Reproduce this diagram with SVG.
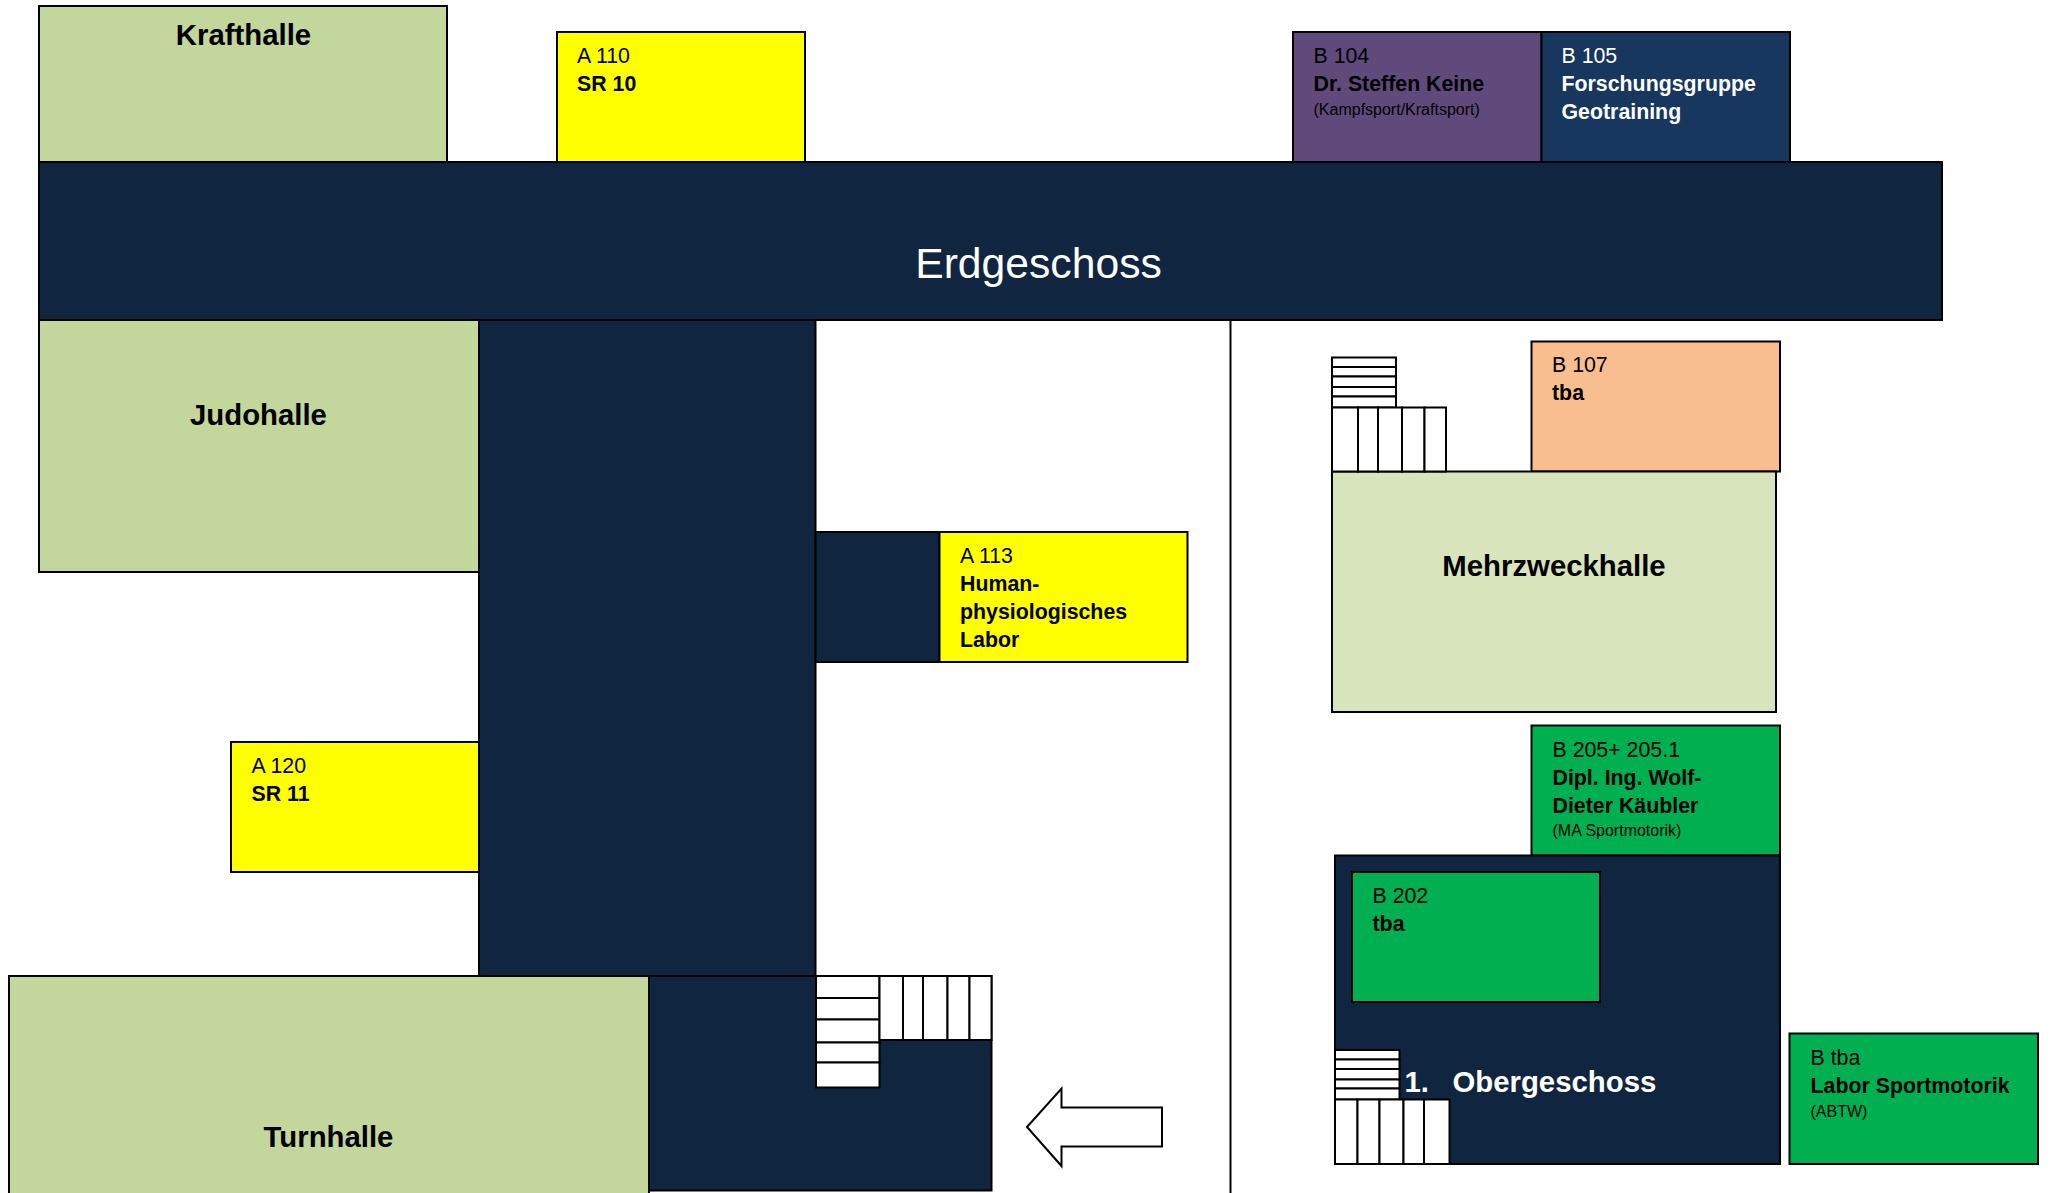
<svg xmlns="http://www.w3.org/2000/svg" width="2053" height="1193" viewBox="0 0 2053 1193">
<style>
text{font-family:"Liberation Sans",Arial,Helvetica,sans-serif;font-size:21.33px;fill:#000}
.b{font-weight:700}
.s{font-size:16px}
.w{fill:#fff}
.h{font-size:29.33px;font-weight:700;text-anchor:middle}
rect,path{stroke:#000;stroke-width:2}
.hall{fill:#C3D69B}
.navy{fill:#10253F}
.yel{fill:#FFFF00}
.grn{fill:#00B050}
.st{fill:#fff}
.ln{fill:none}
</style>
<rect width="2053" height="1193" style="fill:#fff;stroke:none"/>
<path id="divider" class="ln" d="M1230.500 320V1193"/>
<g id="krafthalle"><rect class="hall" x="39" y="6" width="408" height="156"/><text class="h" x="243.500" y="45">Krafthalle</text></g>
<g id="a110"><rect class="yel" x="557" y="32" width="248" height="130"/><text x="577" y="63">A 110</text><text class="b" x="577" y="91">SR 10</text></g>
<g id="b104"><rect x="1293" y="32" width="248.500" height="130" fill="#604A7B"/><text x="1313.500" y="63">B 104</text><text class="b" x="1313.500" y="91">Dr. Steffen Keine</text><text class="s" x="1313.500" y="115">(Kampfsport/Kraftsport)</text></g>
<g id="b105"><rect x="1541.500" y="32" width="248.500" height="130" fill="#17375E"/><text class="w" x="1561.500" y="63">B 105</text><text class="b w" x="1561.500" y="91">Forschungsgruppe</text><text class="b w" x="1561.500" y="119">Geotraining</text></g>
<g id="corridor"><rect class="navy" x="479" y="320" width="336.500" height="656"/></g>
<g id="erdgeschoss"><rect class="navy" x="39" y="162" width="1903" height="158"/><text class="w" x="1038.500" y="278" text-anchor="middle" style="font-size:42.67px">Erdgeschoss</text></g>
<g id="judohalle"><rect class="hall" x="39" y="320" width="440" height="252"/><text class="h" x="258.500" y="425">Judohalle</text></g>
<g id="a113"><rect class="navy" x="815.500" y="532" width="124" height="130"/><rect class="yel" x="939.500" y="532" width="248" height="130"/><text x="960" y="563">A 113</text><text class="b" x="960" y="591">Human-</text><text class="b" x="960" y="619">physiologisches</text><text class="b" x="960" y="647">Labor</text></g>
<g id="a120"><rect class="yel" x="231" y="742" width="248" height="130"/><text x="251.500" y="773">A 120</text><text class="b" x="251.500" y="801">SR 11</text></g>
<g id="foyer"><rect class="navy" x="649" y="976" width="342.500" height="214.500"/></g>
<g id="turnhalle"><rect class="hall" x="9" y="976" width="640" height="230"/><text class="h" x="328.500" y="1147">Turnhalle</text></g>
<g id="stairs-a">
<rect class="st" x="816" y="976" width="63.500" height="22"/><rect class="st" x="816" y="998" width="63.500" height="21.500"/><rect class="st" x="816" y="1019.500" width="63.500" height="23"/><rect class="st" x="816" y="1042.500" width="63.500" height="20"/><rect class="st" x="816" y="1062.500" width="63.500" height="25"/>
<rect class="st" x="879.500" y="976" width="23.500" height="64"/><rect class="st" x="903" y="976" width="20" height="64"/><rect class="st" x="923" y="976" width="24.500" height="64"/><rect class="st" x="947.500" y="976" width="22" height="64"/><rect class="st" x="969.500" y="976" width="22" height="64"/>
</g>
<path id="arrow" class="st" d="M1027 1127L1061.500 1088.500V1107.500H1162V1146.500H1061.500V1166Z"/>
<g id="b107"><rect x="1531.500" y="341.500" width="248.500" height="130" fill="#F9BE8F"/><text x="1552" y="372">B 107</text><text class="b" x="1552" y="400">tba</text></g>
<g id="mehrzweckhalle"><rect x="1332" y="471.500" width="444" height="240.500" fill="#D7E4BC"/><text class="h" x="1554" y="576">Mehrzweckhalle</text></g>
<g id="stairs-b1">
<rect class="st" x="1332" y="357.500" width="64" height="9.500"/><rect class="st" x="1332" y="367" width="64" height="9.500"/><rect class="st" x="1332" y="376.500" width="64" height="10.500"/><rect class="st" x="1332" y="387" width="64" height="9.500"/><rect class="st" x="1332" y="396.500" width="64" height="11"/>
<rect class="st" x="1332" y="407.500" width="26" height="64"/><rect class="st" x="1358" y="407.500" width="20" height="64"/><rect class="st" x="1378" y="407.500" width="24" height="64"/><rect class="st" x="1402" y="407.500" width="22.500" height="64"/><rect class="st" x="1424.500" y="407.500" width="21.500" height="64"/>
</g>
<g id="b205"><rect class="grn" x="1531.500" y="725.500" width="248.500" height="130"/><text x="1552.500" y="757">B 205+ 205.1</text><text class="b" x="1552.500" y="785">Dipl. Ing. Wolf-</text><text class="b" x="1552.500" y="813">Dieter Käubler</text><text class="s" x="1552.500" y="836">(MA Sportmotorik)</text></g>
<g id="obergeschoss"><rect class="navy" x="1335" y="855.500" width="445" height="308.500"/><text class="h w" x="1404.500" y="1092" style="text-anchor:start">1.<tspan x="1452.500">Obergeschoss</tspan></text></g>
<g id="b202"><rect class="grn" x="1352" y="872" width="248" height="130"/><text x="1372.500" y="903">B 202</text><text class="b" x="1372.500" y="931">tba</text></g>
<g id="btba"><rect class="grn" x="1789.500" y="1033.500" width="248.500" height="130.500"/><text x="1810.500" y="1065">B tba</text><text class="b" x="1810.500" y="1092.500">Labor Sportmotorik</text><text class="s" x="1810.500" y="1117">(ABTW)</text></g>
<g id="stairs-b2">
<rect class="st" x="1335" y="1050" width="64.500" height="9.500"/><rect class="st" x="1335" y="1059.500" width="64.500" height="9.500"/><rect class="st" x="1335" y="1069" width="64.500" height="10.500"/><rect class="st" x="1335" y="1079.500" width="64.500" height="9"/><rect class="st" x="1335" y="1088.500" width="64.500" height="11"/>
<rect class="st" x="1335" y="1099.500" width="22.500" height="64.500"/><rect class="st" x="1357.500" y="1099.500" width="22" height="64.500"/><rect class="st" x="1379.500" y="1099.500" width="24" height="64.500"/><rect class="st" x="1403.500" y="1099.500" width="20.500" height="64.500"/><rect class="st" x="1424" y="1099.500" width="25.500" height="64.500"/>
</g>
</svg>
